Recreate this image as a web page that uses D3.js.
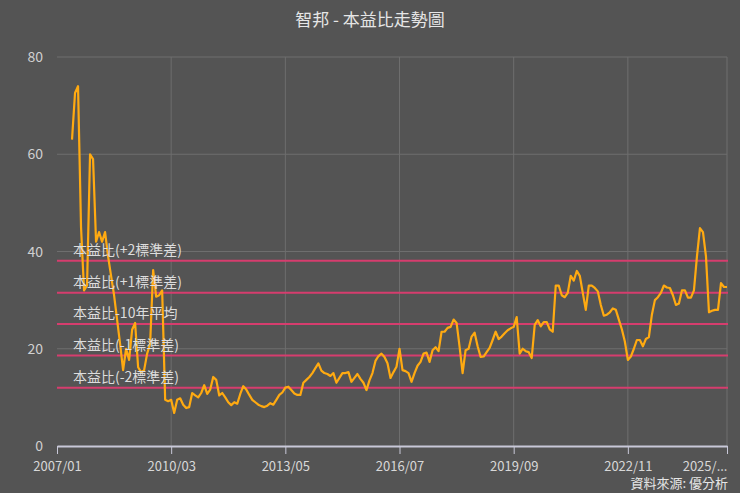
<!DOCTYPE html>
<html><head><meta charset="utf-8">
<script src="https://cdn.jsdelivr.net/npm/d3@7"></script>
<style>body{margin:0;background:#545454;}svg{display:block;font-family:"Noto Sans CJK TC","Noto Sans",sans-serif;}</style>
</head><body><svg id="c" width="740" height="493"></svg>
<script>
const title = "智邦 - 本益比走勢圖";
const source = "資料來源: 優分析";
const startYear = 2007, startMonth = 1;
const peValues = [null,null,null,null,null,
63,72.6,74,45,32,33,60,59,42,44,42,44,39,35,31,26,21,15.6,20,17.7,23.9,25.3,16.2,15.2,15.6,19,21,36.2,30.7,31,32,9.5,9.2,9.5,6.8,9.5,9.8,8.5,7.8,8,10.9,10.4,10,10.9,12.5,10.7,11.6,14.2,13.6,10.4,10.9,10,9,8.4,9,8.7,10.7,12.3,11.6,
10.5,9.5,9,8.5,8.2,8,8.3,8.8,8.5,9.5,10.5,
11,12,12.2,11.5,10.8,10.5,10.5,13,13.6,14.2,15,16,17,15.5,15,14.8,14.4,15,13,14,15,15,15.2,13.2,14,14.8,13.8,13,11.5,13.5,15,17.5,18.5,19,18.3,17,14,15.2,16.3,20,15.6,15.4,15,13.2,15,16.5,17.3,19,19.2,17.3,19.7,20.3,19.5,23.5,23.5,24.3,24.5,26,25.3,20.4,15,19.7,20,22.5,23.3,20.5,18.3,18.4,19.3,20.2,21.8,23.5,22,22.5,23.2,23.8,24.2,24.5,26.5,19,20,19.5,19.3,18.1,24.9,25.9,24.6,25.5,25.5,24,23.5,33,33,31,30.6,31.5,35,34,36,35,31.5,28,33,33,32.5,31.8,29,26.8,27,27.5,28.3,28,26,24,21.5,17.7,18.4,20,21.8,21.8,20.5,22,22.4,27,30,30.6,31.5,33,32.6,32.5,31,29,29.3,32,32,30.5,30.5,32,39,44.8,44,39,27.5,27.8,28,28,33.5,32.7,32.7];
const bandNames = ["本益比(+2標準差)","本益比(+1標準差)","本益比-10年平均","本益比(-1標準差)","本益比(-2標準差)"];
const bandValues = [38.1,31.5,25.1,18.6,12.0];
const yTicks = [0,20,40,60,80];
const xTickIdx = [0,38,76,114,152,190,223];

const months = peValues.map((_, i) => {
  const m = startMonth - 1 + i;
  return `${startYear + Math.floor(m / 12)}/${String(m % 12 + 1).padStart(2, "0")}`;
});

const svg = d3.select("#c");
const L = 57, R = 727, T = 57, B = 446;
const x = d3.scalePoint().domain(d3.range(peValues.length)).range([L, R]);
const y = d3.scaleLinear().domain([0, 80]).range([B, T]);

svg.append("text").attr("x", 370).attr("y", 26).attr("text-anchor", "middle")
  .attr("fill", "#e6e6e6").attr("font-size", 17).text(title);

svg.append("g").selectAll("line").data(yTicks.slice(1)).join("line")
  .attr("x1", L).attr("x2", R).attr("y1", d => y(d)).attr("y2", d => y(d))
  .attr("stroke", "#6e6e6e").attr("stroke-width", 1);
svg.append("g").selectAll("line").data(xTickIdx.slice(1)).join("line")
  .attr("x1", d => x(d)).attr("x2", d => x(d)).attr("y1", T).attr("y2", B)
  .attr("stroke", "#6e6e6e").attr("stroke-width", 1);

svg.append("g").selectAll("text").data(yTicks).join("text")
  .attr("x", 43).attr("y", d => y(d) + 5).attr("text-anchor", "end")
  .attr("fill", "#d0d0d0").attr("font-size", 14).text(d => d);

const last = xTickIdx.length - 1;
const xAxis = d3.axisBottom(x).tickValues(xTickIdx)
  .tickFormat((d, i) => i === last ? months[d].slice(0, 5) + "..." : months[d])
  .tickSize(8).tickSizeOuter(0);
const gx = svg.append("g").attr("transform", `translate(0,${B})`).call(xAxis);
gx.select(".domain").attr("stroke", "#c8c8d8").attr("stroke-width", 2);
gx.selectAll(".tick line").attr("stroke", "#c8c8d8");
gx.selectAll("text").attr("fill", "#d8d8d8").attr("font-size", 13).attr("dy", "1.1em")
  .attr("font-family", '"Noto Sans CJK TC","Noto Sans",sans-serif')
  .attr("text-anchor", (d, i) => i === last ? "end" : "middle");

svg.append("g").selectAll("line").data(bandValues).join("line")
  .attr("x1", L).attr("x2", R + 1).attr("y1", d => y(d)).attr("y2", d => y(d))
  .attr("stroke", "#d63d6e").attr("stroke-width", 2);

const line = d3.line().defined(d => d != null).x((d, i) => x(i)).y(d => y(d));
svg.append("path").datum(peValues).attr("d", line).attr("fill", "none")
  .attr("stroke", "#ffaa11").attr("stroke-width", 2.2).attr("stroke-linejoin", "round");

svg.append("g").selectAll("text").data(bandValues).join("text")
  .attr("x", 73).attr("y", d => y(d) - 6).attr("fill", "#dddddd").attr("font-size", 14)
  .text((d, i) => bandNames[i]);

svg.append("text").attr("x", 728).attr("y", 488).attr("text-anchor", "end")
  .attr("fill", "#e6e6e6").attr("font-size", 13).text(source);
</script></body></html>
